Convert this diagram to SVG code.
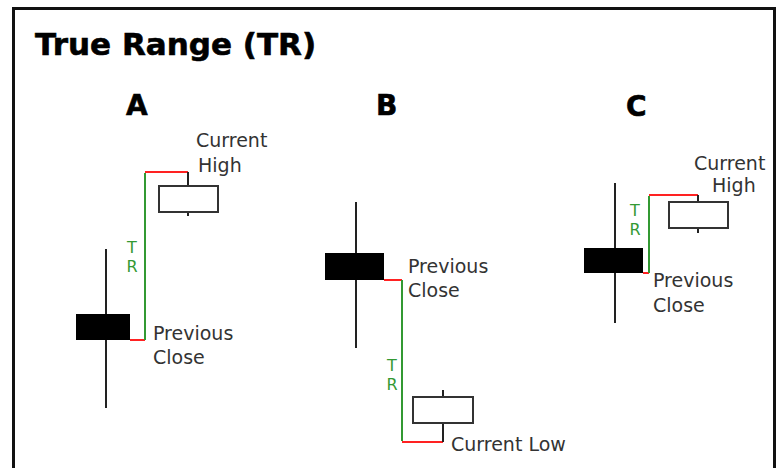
<svg xmlns="http://www.w3.org/2000/svg" width="777" height="468" viewBox="0 0 777 468">
<style>
.frame{fill:none;stroke:#111;stroke-width:3}
.wick{stroke:#222;stroke-width:2;fill:none}
.bear{fill:#000;stroke:#000;stroke-width:1}
.bull{fill:#fff;stroke:#333;stroke-width:2}
.g{stroke:#339933;stroke-width:2;fill:none}
.r{stroke:#ff2222;stroke-width:2;fill:none}
.title{font-family:"DejaVu Sans",sans-serif;font-weight:bold;font-size:31px;fill:#000;stroke:#000;stroke-width:0.6}
.case{font-family:"DejaVu Sans",sans-serif;font-weight:bold;font-size:28px;fill:#000;stroke:#000;stroke-width:0.6}
.lbl{font-family:"DejaVu Sans",sans-serif;font-size:19px;fill:#333}
.tr{font-family:"DejaVu Sans",sans-serif;font-size:16px;fill:#339933;text-anchor:middle}
</style>
<rect width="777" height="468" fill="#fff"/>
<rect class="frame" x="13.5" y="8.5" width="761" height="480"/>
<text class="title" x="35" y="55">True Range (TR)</text>
<g id="caseA-title"><text class="case" x="126" y="115">A</text></g>
<g id="caseB-title"><text class="case" x="376" y="115">B</text></g>
<g id="caseC-title"><text class="case" x="626" y="116">C</text></g>

<g id="connectors">
  <polyline class="r" points="130,340 145,340"/>
  <line class="g" x1="145" y1="173" x2="145" y2="340"/>
  <polyline class="r" points="145,172 188,172"/>
  <polyline class="r" points="384,280 402,280"/>
  <line class="g" x1="402" y1="280" x2="402" y2="441"/>
  <polyline class="r" points="402,442 443,442"/>
  <polyline class="r" points="643,273 649,273"/>
  <line class="g" x1="649" y1="196" x2="649" y2="273"/>
  <polyline class="r" points="649,195 698,195"/>
</g>

<g id="A-prev">
  <line class="wick" x1="106" y1="249" x2="106" y2="408"/>
  <rect class="bear" x="76.5" y="314.5" width="53" height="25"/>
</g>
<g id="A-cur">
  <line class="wick" x1="188" y1="172" x2="188" y2="216"/>
  <rect class="bull" x="159" y="186" width="59" height="26"/>
</g>
<g id="A-labels">
  <text class="lbl" x="196" y="147">Current</text>
  <text class="lbl" x="198" y="172">High</text>
  <text class="lbl" x="153" y="340">Previous</text>
  <text class="lbl" x="153" y="364">Close</text>
  <text class="tr" x="132" y="253">T</text>
  <text class="tr" x="132" y="272">R</text>
</g>

<g id="B-prev">
  <line class="wick" x1="356" y1="202" x2="356" y2="348"/>
  <rect class="bear" x="325.5" y="253.5" width="58" height="26"/>
</g>
<g id="B-cur">
  <line class="wick" x1="443" y1="390" x2="443" y2="442"/>
  <rect class="bull" x="413" y="397" width="60" height="26"/>
</g>
<g id="B-labels">
  <text class="lbl" x="408" y="273">Previous</text>
  <text class="lbl" x="408" y="297">Close</text>
  <text class="lbl" x="451" y="451">Current Low</text>
  <text class="tr" x="392" y="371">T</text>
  <text class="tr" x="392" y="390">R</text>
</g>

<g id="C-prev">
  <line class="wick" x1="615" y1="183" x2="615" y2="323"/>
  <rect class="bear" x="584.5" y="248.5" width="58" height="24"/>
</g>
<g id="C-cur">
  <line class="wick" x1="698" y1="195" x2="698" y2="233"/>
  <rect class="bull" x="669" y="202" width="59" height="26"/>
</g>
<g id="C-labels">
  <text class="lbl" x="694" y="170">Current</text>
  <text class="lbl" x="712" y="192">High</text>
  <text class="lbl" x="653" y="287">Previous</text>
  <text class="lbl" x="653" y="312">Close</text>
  <text class="tr" x="635" y="216">T</text>
  <text class="tr" x="635" y="235">R</text>
</g>
</svg>
